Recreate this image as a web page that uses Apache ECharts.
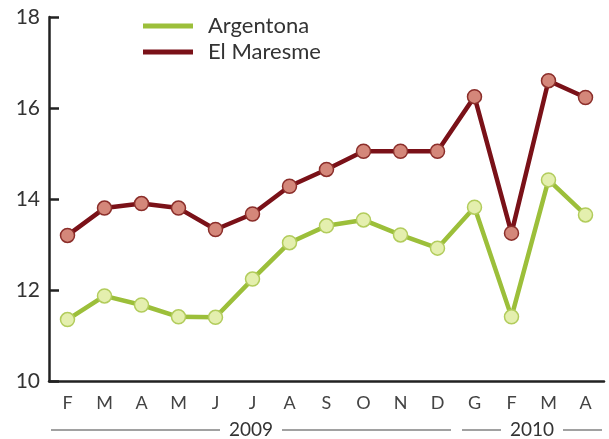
<!DOCTYPE html>
<html>
<head>
<meta charset="utf-8">
<script src="https://cdn.jsdelivr.net/npm/echarts@6/dist/echarts.min.js"></script>
<style>
  html, body { margin: 0; padding: 0; background: #fff; }
  #chart { width: 609px; height: 439px; }
</style>
</head>
<body>
<div id="chart"></div>
<script>
// mesos (feb 2009 - abr 2010)
var months = ['F', 'M', 'A', 'M', 'J', 'J', 'A', 'S', 'O', 'N', 'D', 'G', 'F', 'M', 'A'];
var argentona = [11.35, 11.87, 11.67, 11.41, 11.4, 12.24, 13.04, 13.41, 13.54, 13.21, 12.92, 13.82, 11.41, 14.42, 13.65];
var maresme = [13.2, 13.8, 13.9, 13.8, 13.33, 13.67, 14.28, 14.65, 15.05, 15.05, 15.05, 16.25, 13.25, 16.6, 16.23];
var yTicks = [10, 12, 14, 16, 18];
// anys: [etiqueta, primer mes, darrer mes]
var years = [['2009', 0, 10], ['2010', 11, 14]];

var font = 'Lato, "Noto Sans", sans-serif';
var chart = echarts.init(document.getElementById('chart'));

function lineSeries(name, data, lineColor, fill, border) {
    return {
        name: name,
        type: 'line',
        data: data,
        symbol: 'circle',
        symbolSize: 14,
        lineStyle: {color: lineColor, width: 4.5},
        itemStyle: {color: fill, borderColor: border, borderWidth: 1.5},
        emphasis: {disabled: true},
        z: name === 'Argentona' ? 3 : 2
    };
}

var option = {
    animation: false,
    grid: {left: 49, right: 5, top: 17, bottom: 58},
    legend: {
        left: 138,
        top: 10,
        orient: 'vertical',
        itemWidth: 50,
        itemHeight: 5,
        itemGap: 4,
        icon: 'rect',
        selectedMode: false,
        itemStyle: {borderWidth: 0},
        textStyle: {fontFamily: font, fontSize: 22, color: '#333', padding: [0, 0, 0, 10]},
        data: [
            {name: 'Argentona', icon: 'rect', itemStyle: {color: '#9cbf3a', borderWidth: 0}},
            {name: 'El Maresme', icon: 'rect', itemStyle: {color: '#7a1118', borderWidth: 0}}
        ]
    },
    xAxis: {
        type: 'category',
        data: months,
        boundaryGap: true,
        axisLine: {lineStyle: {color: '#222', width: 2.5}},
        axisTick: {inside: true, length: 9, lineStyle: {color: '#222', width: 2.5}},
        axisLabel: {fontFamily: font, fontSize: 18, color: '#444', margin: 13}
    },
    yAxis: {
        type: 'value',
        min: yTicks[0],
        max: yTicks[yTicks.length - 1],
        interval: 2,
        splitLine: {show: false},
        axisLine: {show: true, lineStyle: {color: '#222', width: 2.5}},
        axisTick: {show: true, inside: true, length: 10, lineStyle: {color: '#222', width: 2.5}},
        axisLabel: {fontFamily: font, fontSize: 21, color: '#333', margin: 9}
    },
    series: [
        lineSeries('Argentona', argentona, '#9cbf3a', '#e4efae', '#b2cc5c'),
        lineSeries('El Maresme', maresme, '#7a1118', '#d4877a', '#8b2e2a')
    ]
};
chart.setOption(option);

// etiquetes d'any sota l'eix, amb línies a banda i banda
var half = (chart.convertToPixel({xAxisIndex: 0}, 1) - chart.convertToPixel({xAxisIndex: 0}, 0)) / 2;
var yy = 430;
var gfx = [];
years.forEach(function (y, i) {
    var x0 = chart.convertToPixel({xAxisIndex: 0}, y[1]) - half + (i === 0 ? 2 : 6);
    var x1 = chart.convertToPixel({xAxisIndex: 0}, y[2]) + half - (i === 0 ? 5 : 2);
    var mid = (x0 + x1) / 2;
    var tw = 46;
    gfx.push({type: 'line', shape: {x1: x0, y1: yy, x2: mid - tw / 2 - 8, y2: yy}, style: {stroke: '#444', lineWidth: 1.2}});
    gfx.push({type: 'line', shape: {x1: mid + tw / 2 + 8, y1: yy, x2: x1, y2: yy}, style: {stroke: '#444', lineWidth: 1.2}});
    gfx.push({type: 'text', x: mid, y: yy, style: {text: y[0], fill: '#333', font: '19px ' + font, align: 'center', verticalAlign: 'middle'}});
});
chart.setOption({graphic: gfx});
</script>
</body>
</html>
